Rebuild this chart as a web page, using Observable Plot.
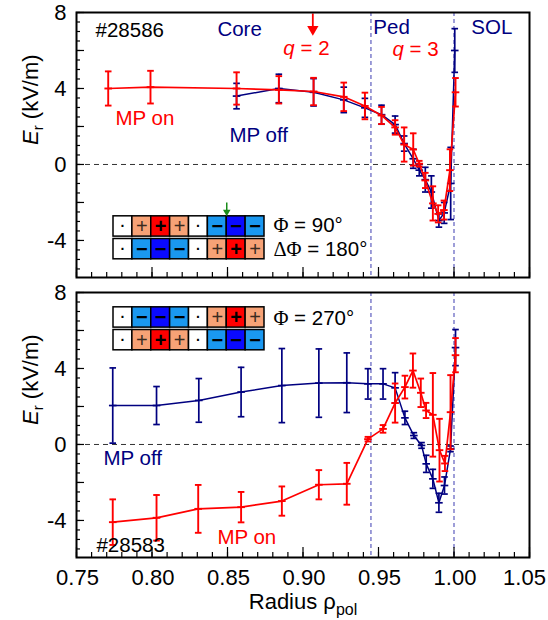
<!DOCTYPE html>
<html><head><meta charset="utf-8">
<script src="https://cdn.jsdelivr.net/npm/d3@7"></script>
<script src="https://cdn.jsdelivr.net/npm/@observablehq/plot@0.6"></script>
<style>
body{margin:0;background:#fff;}
#wrap{position:relative;width:548px;height:620px;overflow:hidden;font-family:"Liberation Sans",Arial,sans-serif;}
#wrap svg{position:absolute;}
</style></head><body><div id="wrap"></div>
<script>
// ---------- data ----------
// Top panel, shot #28586
const topOnRho  = [0.771, 0.799, 0.856, 0.884, 0.907, 0.927, 0.941, 0.952, 0.961, 0.967, 0.973, 0.977, 0.981, 0.986, 0.9895, 0.9933, 0.9973, 1.001];
const topOnE    = [4.0, 4.07, 4.0, 3.93, 3.84, 3.56, 3.08, 2.58, 1.95, 1.05, 0.79, 0.04, -0.84, -2.05, -2.6, -2.4, -0.3, 3.8];
const topOnErr  = [0.9, 0.86, 0.85, 0.72, 0.72, 0.75, 0.7, 0.45, 0.38, 0.9, 0.85, 0.15, 0.4, 0.9, 0.45, 0.5, 1.1, 0.75];
const topOffRho = [0.856, 0.884, 0.907, 0.927, 0.941, 0.952, 0.961, 0.967, 0.973, 0.977, 0.981, 0.985, 0.990, 0.9935, 0.9978, 1.0005];
const topOffE   = [3.6, 4.0, 3.8, 3.4, 2.98, 2.62, 2.1, 1.1, 0.3, -0.3, -0.8, -1.45, -2.95, -2.55, -1.0, 6.0];
const topOffErr = [0.67, 0.75, 0.72, 0.67, 0.5, 0.5, 0.45, 0.4, 0.5, 0.3, 0.65, 0.85, 0.35, 0.55, 1.9, 1.15];
// Bottom panel, shot #28583
const botOnRho  = [0.774, 0.803, 0.8306, 0.859, 0.886, 0.9105, 0.929, 0.943, 0.953, 0.961, 0.9675, 0.9728, 0.978, 0.9815, 0.986, 0.9904, 0.994, 0.9977, 1.001];
const botOnE    = [-4.09, -3.86, -3.39, -3.3, -2.98, -2.12, -2.07, 0.28, 0.82, 2.18, 3.02, 3.89, 2.72, 1.79, 1.56, -0.3, -1.0, 1.7, 4.7];
const botOnErr  = [1.2, 1.2, 1.26, 0.8, 0.77, 0.77, 1.1, 0.12, 0.2, 1.03, 0.6, 0.9, 0.75, 0.4, 2.2, 1.65, 0.4, 1.95, 0.9];
const botOffRho = [0.774, 0.803, 0.831, 0.859, 0.886, 0.9105, 0.929, 0.943, 0.953, 0.961, 0.9675, 0.9734, 0.9785, 0.9816, 0.986, 0.990, 0.9937, 0.9977, 1.001];
const botOffE   = [2.05, 2.05, 2.32, 2.76, 3.1, 3.23, 3.25, 3.19, 3.19, 2.98, 1.4, 0.47, -0.05, -1.02, -1.81, -3.07, -2.16, -0.23, 5.1];
const botOffErr = [1.98, 1.0, 1.15, 1.3, 1.95, 1.8, 1.57, 0.8, 0.8, 0.8, 0.35, 0.15, 0.15, 0.45, 0.5, 0.5, 0.45, 0.15, 0.95];

// region boundaries (pedestal top, separatrix)
const regionBounds = [0.945, 1.0];
// q = 2 marker
const qArrowRho = [0.9065];

// tick labels
const xTickLabels = [0.75, 0.80, 0.85, 0.90, 0.95, 1.00, 1.05];
const yTickLabels = [8, 4, 0, -4];
const yMajorTicks = [-4, -2, 0, 2, 4, 6, 8];
const yMinorTicks = d3.range(-11, 17).map(d => d / 2);
const xMinorTicks = d3.range(75, 106).map(d => d / 100);

// coil phase boxes (0 = off, p/P = +, m/M = -)
const phi90Row  = ["0","p","P","p","0","m","M","m"];
const phi180Row = ["0","m","M","m","0","p","P","p"];
const phi270RowA = ["0","m","M","m","0","p","P","p"];
const phi270RowB = ["0","p","P","p","0","m","M","m"];

const NAVY = "#000080", RED = "#ff0000";
const FONT = "Liberation Sans, Arial, Helvetica, sans-serif";

const topLabels = [
  {t:"#28586", x:0.7626, y:7.05, c:"black"},
  {t:"Core",   x:0.8433, y:7.12, c:NAVY},
  {t:"q = 2",  x:0.887,  y:6.12, c:RED},
  {t:"Ped",    x:0.9466, y:7.2,  c:NAVY},
  {t:"q = 3",  x:0.9592, y:6.06, c:RED},
  {t:"SOL",    x:1.0115, y:7.2,  c:NAVY},
  {t:"MP on",  x:0.7758, y:2.42, c:RED},
  {t:"MP off", x:0.8513, y:1.53, c:NAVY},
  {t:"Φ = 90°",   x:0.8804, y:-3.21, c:"black"},
  {t:"ΔΦ = 180°", x:0.8804, y:-4.47, c:"black"}
];
const botLabels = [
  {t:"Φ = 270°", x:0.8804, y:6.63, c:"black"},
  {t:"MP off", x:0.7679, y:-0.74, c:NAVY},
  {t:"MP on",  x:0.8433, y:-4.89, c:RED},
  {t:"#28583", x:0.7632, y:-5.32, c:"black"}
];

// ---------- helpers ----------
const series = (rho, E, err) => rho.map((r, i) => ({rho: r, E: E[i], lo: E[i] - err[i], hi: E[i] + err[i]}));
const hbar = {draw(ctx, size) { const r = Math.sqrt(size / Math.PI); ctx.moveTo(-r, 0); ctx.lineTo(r, 0); }};

function errMarks(data, color, lw, ew) {
  return [
    Plot.line(data, {x: "rho", y: "E", stroke: color, strokeWidth: lw}),
    Plot.ruleX(data, {x: "rho", y1: "lo", y2: "hi", stroke: color, strokeWidth: ew}),
    Plot.dot(data, {x: "rho", y: "lo", symbol: hbar, r: 3.3, fill: "none", stroke: color, strokeWidth: ew}),
    Plot.dot(data, {x: "rho", y: "hi", symbol: hbar, r: 3.3, fill: "none", stroke: color, strokeWidth: ew}),
    Plot.dot(data, {x: "rho", y: "E", symbol: hbar, r: 3.8, fill: "none", stroke: color, strokeWidth: ew})
  ];
}

function panel({height, marginBottom, off, on, labels, xLabels, extra = []}) {
  const fmt = d => d.toFixed(2);
  return Plot.plot({
    width: 548, height, marginTop: 12, marginBottom, marginLeft: 76, marginRight: 19,
    x: {domain: [0.75, 1.05], label: null},
    y: {domain: [-5.95, 8], label: null},
    color: {type: "identity"},
    style: {fontFamily: FONT, background: "transparent", overflow: "visible", color: "black"},
    marks: [
      Plot.ruleY([0], {stroke: "#333", strokeDasharray: "5,4", strokeWidth: 1}),
      Plot.ruleX(regionBounds, {stroke: "#6a6ac4", strokeDasharray: "4,3", strokeWidth: 1.3}),
      ...errMarks(off, NAVY, 1.5, 1.7),
      ...errMarks(on, RED, 1.7, 1.9),
      ...extra,
      Plot.text(labels, {x: "x", y: "y", text: "t", fill: "c", textAnchor: "start", fontSize: 20.5}),
      Plot.frame({stroke: "black", strokeWidth: 2}),
      Plot.axisY(yMinorTicks, {tickSize: -4, fill: "none", strokeWidth: 1.2, label: null}),
      Plot.axisY(yMajorTicks, {tickSize: -8, fill: "none", strokeWidth: 1.2, label: null}),
      Plot.axisY(yTickLabels, {tickSize: 0, tickPadding: 10, fontSize: 22, tickFormat: d => String(d), label: null}),
      Plot.axisX(xMinorTicks, {tickSize: -5, fill: "none", strokeWidth: 1.2, label: null}),
      Plot.axisX(xTickLabels, {tickSize: -10, fill: "none", strokeWidth: 1.2, label: null}),
      xLabels ? Plot.axisX(xTickLabels.slice(0, -1), {tickSize: 0, tickPadding: 12, fontSize: 22, dx: 1, tickFormat: fmt, label: null}) : null,
      xLabels ? Plot.axisX(xTickLabels.slice(-1), {tickSize: 0, tickPadding: 12, fontSize: 22, dx: -5, tickFormat: fmt, label: null}) : null,
      xLabels ? Plot.text(["Radius ρpol"], {frameAnchor: "bottom", dy: 51, fontSize: 22, text: d => d}) : null,
      Plot.text(["Er (kV/m)"], {frameAnchor: "left", rotate: -90, dx: -46, fontSize: 22, text: d => d})
    ]
  });
}

const kindFill = {"0": "white", p: "#f7a276", P: "#ff0000", m: "#1a98f0", M: "#0a0aff"};
const kindSign = {"0": "·", p: "+", P: "+", m: "−", M: "−"};

function inset(rows, withArrow) {
  const cells = rows.flatMap((row, r) => row.map((k, c) => ({row: r, col: c, kind: k})));
  const pos = {x: d => d.col + 0.5, y: d => d.row + 0.5, text: d => kindSign[d.kind]};
  const marks = [
    Plot.rect(cells, {x1: "col", x2: d => d.col + 1, y1: "row", y2: d => d.row + 1, fill: d => kindFill[d.kind], stroke: "black", strokeWidth: 1.5, insetTop: 1.2, insetBottom: 1.2}),
    Plot.text(cells.filter(d => d.kind === "p"), {...pos, fontSize: 20, fill: "#3a2a20"}),
    Plot.text(cells.filter(d => d.kind !== "p" && d.kind !== "0"), {...pos, fontSize: 20, fontWeight: "bold", fill: "black"}),
    Plot.text(cells.filter(d => d.kind === "0"), {...pos, fontSize: 14, fontWeight: "bold", fill: "black"})
  ];
  if (withArrow) {
    marks.push(Plot.link([6], {x1: d => d, x2: d => d, y1: -0.56, y2: -0.22, stroke: "#1a8c1a", strokeWidth: 1.5}));
    marks.push(Plot.dot([6], {x: d => d, y: -0.14, symbol: "triangle", rotate: 180, r: 2.8, fill: "#1a8c1a", stroke: "none"}));
  }
  return Plot.plot({
    width: 153, height: 59, marginLeft: 1, marginRight: 1, marginTop: 0, marginBottom: 0,
    x: {domain: [0, 8], axis: null},
    y: {domain: [-0.6, 2], range: [0, 59], axis: null},
    color: {type: "identity"},
    style: {fontFamily: FONT, background: "transparent", overflow: "visible"},
    marks
  });
}

// rich text replacements (italic / sub / serif Greek)
const rich = {
  "q = 2": '<tspan font-style="italic">q</tspan> = 2',
  "q = 3": '<tspan font-style="italic">q</tspan> = 3',
  "Φ = 90°": '<tspan font-family="Liberation Serif">Φ</tspan> = 90°',
  "ΔΦ = 180°": '<tspan font-family="Liberation Serif">ΔΦ</tspan> = 180°',
  "Φ = 270°": '<tspan font-family="Liberation Serif">Φ</tspan> = 270°',
  "Er (kV/m)": '<tspan font-style="italic">E</tspan><tspan dy="5" font-size="15">r</tspan><tspan dy="-5"> (kV/m)</tspan>',
  "Radius ρpol": 'Radius ρ<tspan dy="6" font-size="16">pol</tspan>'
};
function enrich(svg) {
  svg.querySelectorAll("text").forEach(t => { const s = t.textContent; if (rich[s]) t.innerHTML = rich[s]; });
  return svg;
}

// ---------- build ----------
const wrap = document.getElementById("wrap");

const qArrow = [
  Plot.link(qArrowRho, {x1: d => d, x2: d => d, y1: 7.95, y2: 7.25, stroke: RED, strokeWidth: 1.8}),
  Plot.dot(qArrowRho, {x: d => d, y: 7.12, symbol: "triangle", rotate: 180, r: 4.2, fill: RED, stroke: "none"})
];

const topPanel = enrich(panel({height: 285, marginBottom: 8,
  off: series(topOffRho, topOffE, topOffErr), on: series(topOnRho, topOnE, topOnErr),
  labels: topLabels, xLabels: false, extra: qArrow}));
topPanel.style.left = "0px"; topPanel.style.top = "0px";
wrap.appendChild(topPanel);

const botPanel = enrich(panel({height: 340, marginBottom: 63,
  off: series(botOffRho, botOffE, botOffErr), on: series(botOnRho, botOnE, botOnErr),
  labels: botLabels, xLabels: true}));
botPanel.style.left = "0px"; botPanel.style.top = "280px";
wrap.appendChild(botPanel);

const inset1 = inset([phi90Row, phi180Row], true);
inset1.style.left = "112.3px"; inset1.style.top = "200.5px";
wrap.appendChild(inset1);

const inset2 = inset([phi270RowA, phi270RowB], false);
inset2.style.left = "112.3px"; inset2.style.top = "292.2px";
wrap.appendChild(inset2);
</script>
</body></html>
